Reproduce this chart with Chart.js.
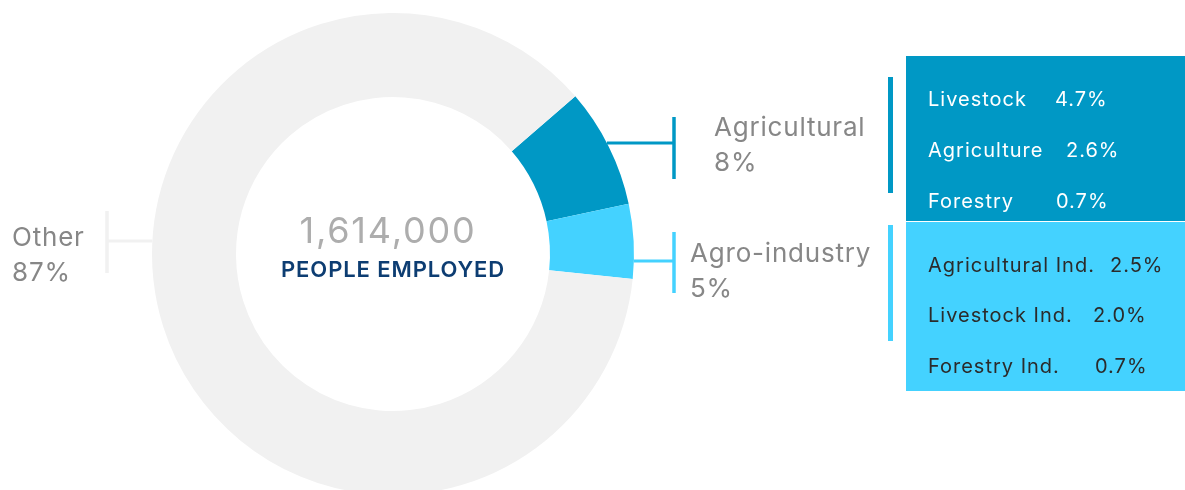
<!DOCTYPE html>
<html>
<head>
<meta charset="utf-8">
<script src="https://cdn.jsdelivr.net/npm/chart.js@4.4.1/dist/chart.umd.min.js"></script>
<style>
    html, body { margin: 0; padding: 0; background: #fff; overflow: hidden; }
    #wrap { width: 1185px; height: 500px; }
</style>
</head>
<body>
<div id="wrap"><canvas id="employmentChart" width="1185" height="500"></canvas></div>
<script>
const sectors = ["Agricultural", "Agro-industry", "Other"];
const sectorShares = [8, 5, 87];
const sectorColors = ["#0098c5", "#44d2ff", "#f1f1f1"];
const totalEmployed = 1614000;
const totalCaption = "PEOPLE EMPLOYED";

const agriNames = ["Livestock", "Agriculture", "Forestry"];
const agriShares = [4.7, 2.6, 0.7];
const agroNames = ["Agricultural Ind.", "Livestock Ind.", "Forestry Ind."];
const agroShares = [2.5, 2.0, 0.7];

const FONT = "Inter, Lato, sans-serif";

// leader + label layout for each sector (same order as sectors)
const callouts = [
    { side: 1, lineY: 143, barX: 674, barTop: 117, barBottom: 179, textX: 714, textY: 136 },
    { side: 1, lineY: 261, barX: 674, barTop: 232, barBottom: 293, textX: 690, textY: 262 },
    { side: -1, lineY: 241, barX: 107, barTop: 211, barBottom: 273, textX: 12, textY: 246 }
];

// breakdown panels on the right
const panels = [
    { names: agriNames, values: agriShares, fill: sectorColors[0], ink: "#ffffff",
      top: 56, bottom: 221, rowY: [106, 157, 208], valueX: [1055, 1066, 1056],
      barTop: 77, barBottom: 193 },
    { names: agroNames, values: agroShares, fill: sectorColors[1], ink: "#2b2b2b",
      top: 222, bottom: 391, rowY: [272, 322, 373], valueX: [1110, 1093, 1095],
      barTop: 225, barBottom: 341 }
];

function spaced(ctx, px) {
    if ("letterSpacing" in ctx) ctx.letterSpacing = px + "px";
}

const annotations = {
    id: "annotations",
    afterDraw(chart) {
        const ctx = chart.ctx;
        const arc = chart.getDatasetMeta(0).data[0];
        const cx = arc.x, cy = arc.y, R = arc.outerRadius;

        ctx.save();
        ctx.textBaseline = "alphabetic";

        // leader lines and sector labels
        callouts.forEach((c, i) => {
            const dy = c.lineY - cy;
            const edgeX = cx + c.side * Math.sqrt(R * R - dy * dy);
            ctx.strokeStyle = sectorColors[i];
            ctx.lineWidth = 3;
            ctx.beginPath();
            ctx.moveTo(edgeX, c.lineY);
            ctx.lineTo(c.barX, c.lineY);
            ctx.stroke();
            ctx.lineWidth = 3.5;
            ctx.beginPath();
            ctx.moveTo(c.barX, c.barTop);
            ctx.lineTo(c.barX, c.barBottom);
            ctx.stroke();

            ctx.fillStyle = "#878787";
            ctx.font = "26px " + FONT;
            spaced(ctx, 0.8);
            ctx.textAlign = "left";
            ctx.fillText(sectors[i], c.textX, c.textY);
            ctx.fillText(sectorShares[i] + "%", c.textX, c.textY + 35);
        });

        // centre total
        ctx.textAlign = "center";
        ctx.fillStyle = "#adadad";
        ctx.font = "36px " + FONT;
        spaced(ctx, 1.8);
        ctx.fillText(totalEmployed.toLocaleString("en-US"), cx - 5, 243);
        ctx.fillStyle = "#0d3d72";
        ctx.font = "600 22px " + FONT;
        spaced(ctx, 0.9);
        ctx.fillText(totalCaption, cx, 277);

        // breakdown panels
        panels.forEach(p => {
            ctx.fillStyle = p.fill;
            ctx.fillRect(906, p.top, 1185 - 906, p.bottom - p.top);
            ctx.fillRect(888, p.barTop, 5, p.barBottom - p.barTop);
            ctx.fillStyle = p.ink;
            ctx.font = "20px " + FONT;
            spaced(ctx, 1);
            ctx.textAlign = "left";
            p.names.forEach((name, j) => {
                ctx.fillText(name, 928, p.rowY[j]);
                ctx.fillText(p.values[j].toFixed(1) + "%", p.valueX[j], p.rowY[j]);
            });
        });

        ctx.restore();
    }
};

new Chart(document.getElementById("employmentChart"), {
    type: "doughnut",
    data: {
        labels: sectors,
        datasets: [{
            data: sectorShares,
            backgroundColor: sectorColors,
            borderWidth: 0,
            hoverOffset: 0
        }]
    },
    options: {
        responsive: false,
        animation: false,
        events: [],
        rotation: 49.15,
        radius: 241,
        cutout: 157,
        layout: { padding: { left: 152, right: 551, top: 13, bottom: 5 } },
        plugins: {
            legend: { display: false },
            tooltip: { enabled: false }
        }
    },
    plugins: [annotations]
});
</script>
</body>
</html>
